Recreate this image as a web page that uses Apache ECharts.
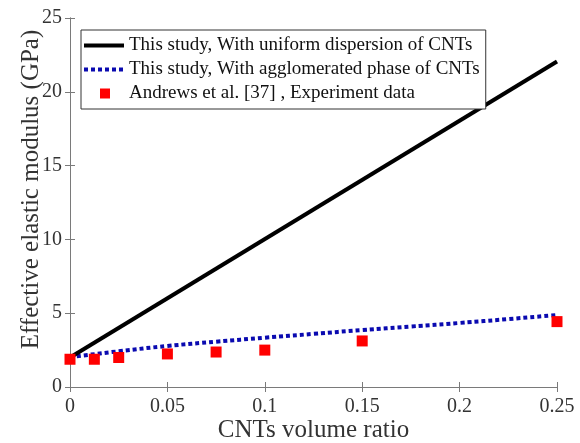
<!DOCTYPE html>
<html>
<head>
<meta charset="utf-8">
<script src="https://cdn.jsdelivr.net/npm/echarts@6/dist/echarts.min.js"></script>
<style>html,body{margin:0;padding:0;background:#fff}#c{width:580px;height:443px}</style>
</head>
<body>
<div id="c"></div>
<script>
var xUniform = [0, 0.25];
var yUniform = [2.0, 22.05];
var xAgglo = [0, 0.025, 0.05, 0.075, 0.1, 0.125, 0.15, 0.175, 0.2, 0.225, 0.25];
var yAgglo = [2.02, 2.42, 2.78, 3.07, 3.34, 3.6, 3.86, 4.1, 4.34, 4.6, 4.88];
var xExp = [0, 0.0125, 0.025, 0.05, 0.075, 0.1, 0.15, 0.25];
var yExp = [1.88, 1.88, 2.0, 2.24, 2.37, 2.5, 3.12, 4.43];
var xTicks = [0, 0.05, 0.1, 0.15, 0.2, 0.25];
var yTicks = [0, 5, 10, 15, 20, 25];
var names = ['This study, With uniform dispersion of CNTs', 'This study, With agglomerated phase of CNTs', 'Andrews et al. [37] , Experiment data'];

function pairs(xs, ys){ return xs.map(function(x,i){return [x, ys[i]];}); }
var font = 'Liberation Serif';
var axisColor = '#7a7a7a';
var solidIcon = 'path://M0,0M40,14M0,5h40v4h-40z';
var dotIcon = 'path://M0,0M40,14M0,5h4v4h-4zM7,5h4v4h-4zM14,5h4v4h-4zM21,5h4v4h-4zM28,5h4v4h-4zM35,5h4v4h-4z';
var sqIcon = 'path://M0,0M40,14M16,2h10v10h-10z';
var chart = echarts.init(document.getElementById('c'));
chart.setOption({
  animation: false,
  grid: {left: 70, right: 23, top: 18, bottom: 56, show: false, containLabel: false, outerBoundsMode: 'none'},
  legend: {
    orient: 'vertical', left: 81, top: 30, padding: [6, 6, 6, 3],
    itemWidth: 40, itemHeight: 14, itemGap: 5,
    borderColor: '#333', borderWidth: 1, backgroundColor: '#fff',
    textStyle: {fontFamily: font, fontSize: 19, lineHeight: 15, color: '#111'},
    data: [
      {name: names[0], icon: solidIcon, itemStyle: {color: '#000', borderWidth: 0, opacity: 1}},
      {name: names[1], icon: dotIcon, itemStyle: {color: '#0a0ab0', borderWidth: 0, opacity: 1}},
      {name: names[2], icon: sqIcon, itemStyle: {color: '#f00', borderWidth: 0, opacity: 1}}
    ]
  },
  xAxis: [{
    type: 'value', min: xTicks[0], max: xTicks[xTicks.length-1], interval: 0.05,
    name: 'CNTs volume ratio', nameLocation: 'middle', nameGap: 31, nameMoveOverlap: false,
    nameTextStyle: {fontFamily: font, fontSize: 25, color: '#333'},
    axisLine: {show: true, onZero: false, lineStyle: {color: axisColor, width: 1}},
    axisTick: {show: true, inside: true, length: 5, lineStyle: {color: axisColor}},
    axisLabel: {fontFamily: font, fontSize: 20, color: '#333', margin: 10, formatter: function(v){return String(+v.toFixed(2));}},
    splitLine: {show: false}
  }, {
    type: 'value', position: 'top', min: 0, max: 0.25, interval: 0.05,
    axisLine: {show: true, lineStyle: {color: axisColor, width: 1}},
    axisTick: {show: true, inside: true, length: 5, lineStyle: {color: axisColor}},
    axisLabel: {show: false}, splitLine: {show: false}
  }],
  yAxis: [{
    type: 'value', min: yTicks[0], max: yTicks[yTicks.length-1], interval: 5,
    name: 'Effective elastic modulus (GPa)', nameLocation: 'middle', nameGap: 26, nameMoveOverlap: false,
    nameTextStyle: {fontFamily: font, fontSize: 25, color: '#333', padding: [0, 0, 0, 26]},
    axisLine: {show: true, onZero: false, lineStyle: {color: axisColor, width: 1}},
    axisTick: {show: true, inside: true, length: 5, lineStyle: {color: axisColor}},
    axisLabel: {fontFamily: font, fontSize: 20, color: '#333', margin: 8},
    splitLine: {show: false}
  }, {
    type: 'value', position: 'right', min: 0, max: 25, interval: 5,
    axisLine: {show: true, lineStyle: {color: axisColor, width: 1}},
    axisTick: {show: true, inside: true, length: 5, lineStyle: {color: axisColor}},
    axisLabel: {show: false}, splitLine: {show: false}
  }],
  series: [{
    name: names[0], type: 'line', data: pairs(xUniform, yUniform),
    symbol: 'none', lineStyle: {color: '#000', width: 4}, itemStyle: {color: '#000'}, z: 3
  }, {
    name: names[1], type: 'line', data: pairs(xAgglo, yAgglo), smooth: true,
    symbol: 'none', lineStyle: {color: '#0a0ab0', width: 4, type: [4, 3]}, itemStyle: {color: '#0a0ab0'}, z: 2
  }, {
    name: names[2], type: 'scatter', data: pairs(xExp, yExp),
    symbol: 'rect', symbolSize: 11, itemStyle: {color: '#f00', opacity: 1}, z: 4
  }]
});
</script>
</body>
</html>
